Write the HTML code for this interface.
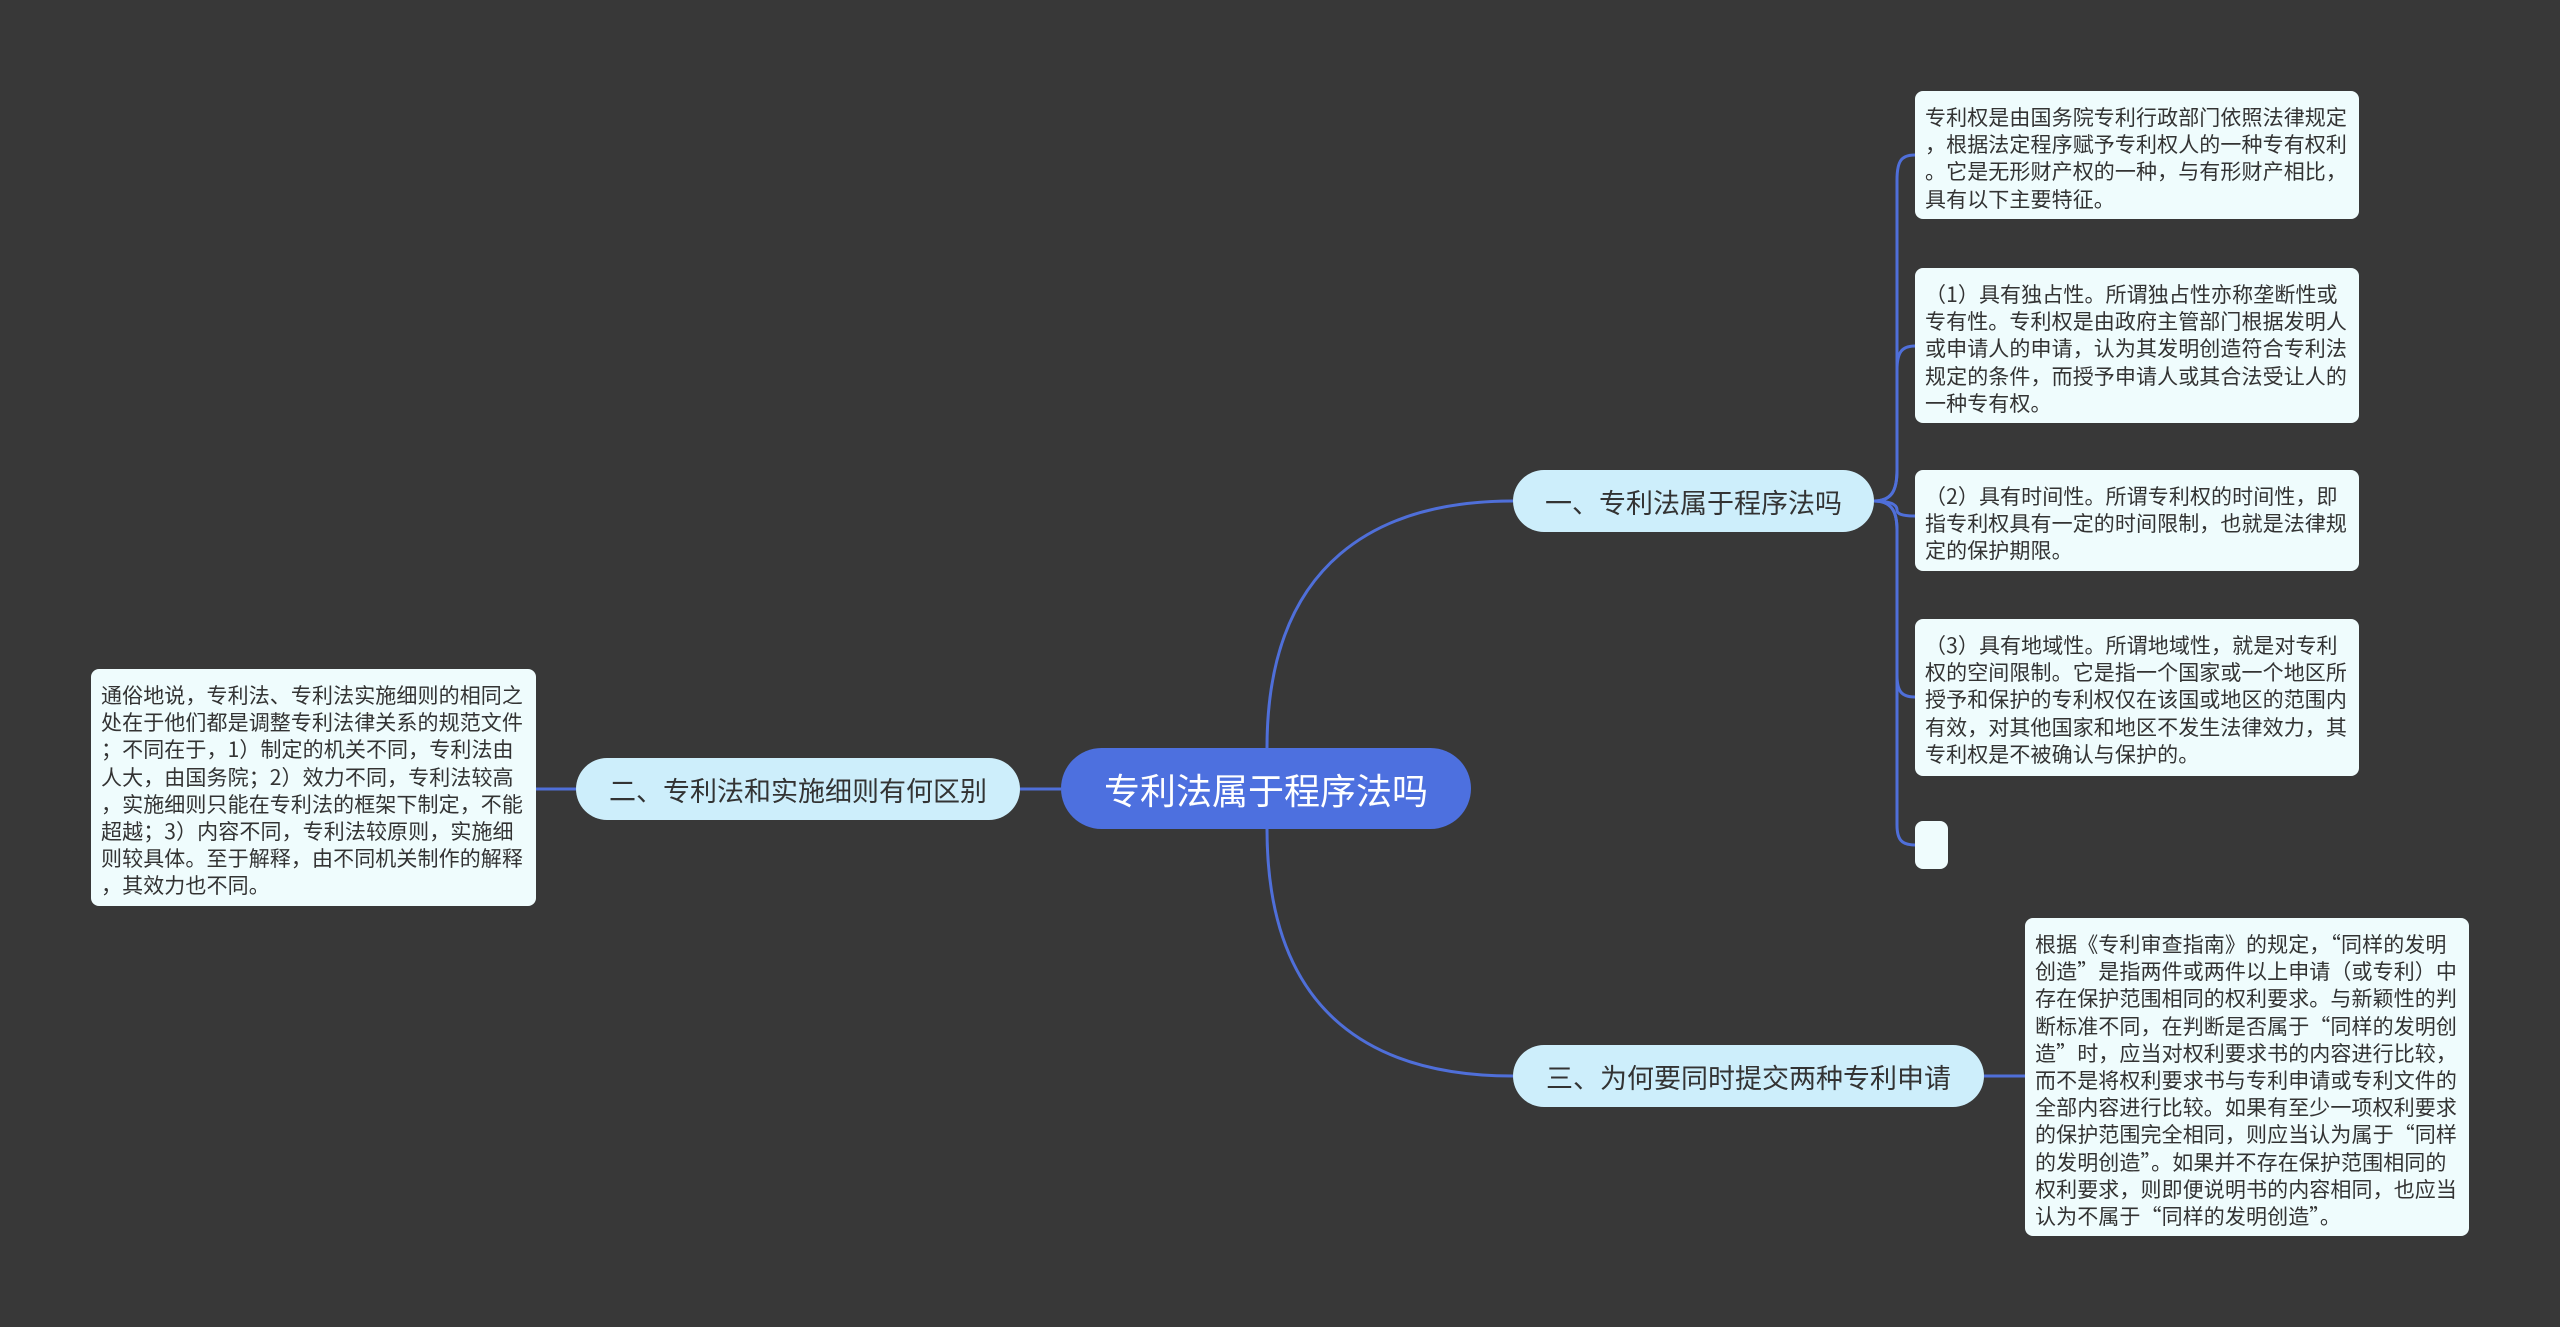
<!DOCTYPE html>
<html><head><meta charset="utf-8">
<style>
html,body{margin:0;padding:0}
body{width:2560px;height:1327px;background:#383838;position:relative;overflow:hidden;font-family:"Liberation Sans","Noto Sans CJK SC",sans-serif}
.n{position:absolute;box-sizing:border-box;display:flex;align-items:center;justify-content:center;white-space:nowrap}
.c{background:#4d70df;color:#fff;font-size:36px;border-radius:41px}
.s{background:#cdeefb;color:#333;font-size:27px;border-radius:31px}
.l{position:absolute;box-sizing:border-box;background:#effcfd;color:#333;font-size:21px;line-height:27.2px;border-radius:8px;padding:13px 10px 8px;white-space:nowrap;letter-spacing:0.1px;font-family:"Noto Sans CJK SC","Liberation Sans",sans-serif}
svg{position:absolute;left:0;top:0}
</style></head><body>
<svg width="2560" height="1327">
<g fill="none" stroke="#4f6fd9" stroke-width="3">
<path d="M1267,748 C1267,560 1380,501 1513,501"/>
<path d="M1267,829 C1267,1020 1380,1076 1513,1076"/>
<path d="M1020,789 L1061,789"/>
<path d="M536,789 L576,789"/>
<path d="M1984,1076 L2025,1076"/>
<path d="M1874,501 C1892,501 1897,490 1897,470 L1897,180 C1897,160 1902,155 1915,155"/>
<path d="M1874,501 C1892,501 1897,490 1897,470 L1897,370 C1897,352 1902,346 1915,346"/>
<path d="M1874,501 C1892,501 1897,505 1897,510 C1897,514 1902,516 1915,516"/>
<path d="M1874,501 C1892,501 1897,512 1897,530 L1897,675 C1897,692 1902,697 1915,697"/>
<path d="M1874,501 C1892,501 1897,512 1897,530 L1897,825 C1897,840 1902,845 1915,845"/>
</g>
</svg>
<div class="n c" style="left:1061px;top:748px;width:410px;height:81px">专利法属于程序法吗</div>
<div class="n s" style="left:1513px;top:470px;width:361px;height:62px">一、专利法属于程序法吗</div>
<div class="n s" style="left:576px;top:758px;width:444px;height:62px">二、专利法和实施细则有何区别</div>
<div class="n s" style="left:1513px;top:1045px;width:471px;height:62px">三、为何要同时提交两种专利申请</div>

<div class="l" style="left:1915px;top:91px;width:444px;height:128px">专利权是由国务院专利行政部门依照法律规定<br>，根据法定程序赋予专利权人的一种专有权利<br>。它是无形财产权的一种，与有形财产相比，<br>具有以下主要特征。</div>
<div class="l" style="left:1915px;top:268px;width:444px;height:155px">（1）具有独占性。所谓独占性亦称垄断性或<br>专有性。专利权是由政府主管部门根据发明人<br>或申请人的申请，认为其发明创造符合专利法<br>规定的条件，而授予申请人或其合法受让人的<br>一种专有权。</div>
<div class="l" style="left:1915px;top:470px;width:444px;height:101px">（2）具有时间性。所谓专利权的时间性，即<br>指专利权具有一定的时间限制，也就是法律规<br>定的保护期限。</div>
<div class="l" style="left:1915px;top:619px;width:444px;height:157px">（3）具有地域性。所谓地域性，就是对专利<br>权的空间限制。它是指一个国家或一个地区所<br>授予和保护的专利权仅在该国或地区的范围内<br>有效，对其他国家和地区不发生法律效力，其<br>专利权是不被确认与保护的。</div>
<div class="l" style="left:1915px;top:821px;width:33px;height:48px;padding:0"></div>
<div class="l" style="left:91px;top:669px;width:445px;height:237px">通俗地说，专利法、专利法实施细则的相同之<br>处在于他们都是调整专利法律关系的规范文件<br>；不同在于，1）制定的机关不同，专利法由<br>人大，由国务院；2）效力不同，专利法较高<br>，实施细则只能在专利法的框架下制定，不能<br>超越；3）内容不同，专利法较原则，实施细<br>则较具体。至于解释，由不同机关制作的解释<br>，其效力也不同。</div>
<div class="l" style="left:2025px;top:918px;width:444px;height:318px">根据《专利审查指南》的规定，“同样的发明<br>创造”是指两件或两件以上申请（或专利）中<br>存在保护范围相同的权利要求。与新颖性的判<br>断标准不同，在判断是否属于“同样的发明创<br>造”时，应当对权利要求书的内容进行比较，<br>而不是将权利要求书与专利申请或专利文件的<br>全部内容进行比较。如果有至少一项权利要求<br>的保护范围完全相同，则应当认为属于“同样<br>的发明创造”。如果并不存在保护范围相同的<br>权利要求，则即便说明书的内容相同，也应当<br>认为不属于“同样的发明创造”。</div>
</body></html>
